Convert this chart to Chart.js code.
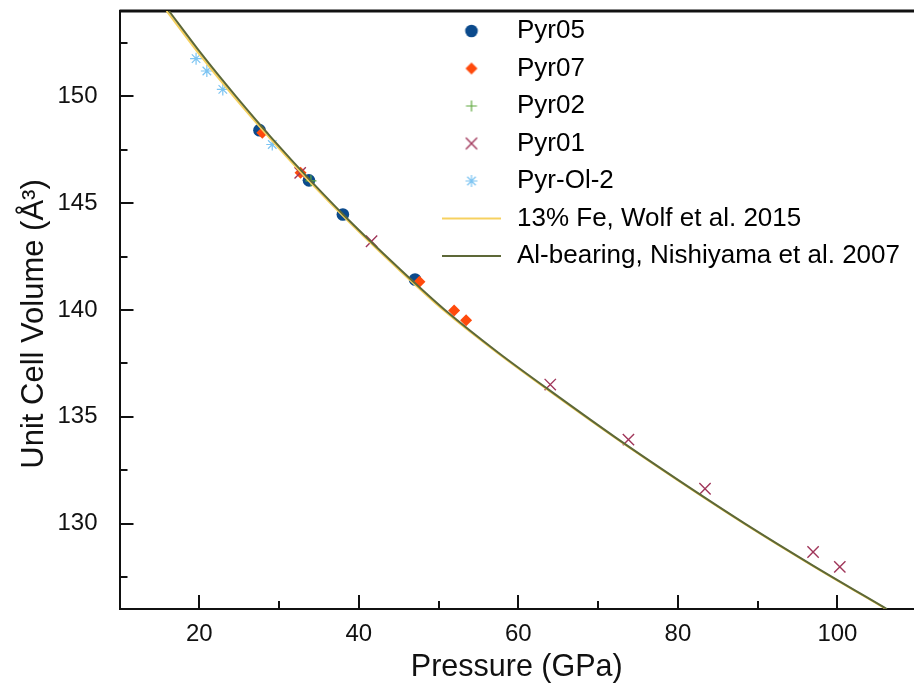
<!DOCTYPE html>
<html>
<head>
<meta charset="utf-8">
<script src="https://cdn.jsdelivr.net/npm/chart.js@4.4.1/dist/chart.umd.min.js"></script>
<style>
  html, body { margin: 0; padding: 0; background: #fff; }
  #wrap { width: 914px; height: 688px; }
</style>
</head>
<body>
<div id="wrap"><canvas id="eosChart" width="914" height="688"></canvas></div>
<script>
// measured points (pressure GPa, volume A^3)
const pyr05P = [27.55, 33.75, 38.0, 47.05]
const pyr05V = [148.42, 146.07, 144.47, 141.43]

const pyr07P = [27.9, 32.7, 47.6, 51.95, 53.45]
const pyr07V = [148.3, 146.43, 141.32, 139.98, 139.52]

const pyr02P = [34.0]
const pyr02V = [146.05]

const pyr01P = [32.65, 41.6, 64.0, 73.8, 83.4, 96.95, 100.3]
const pyr01V = [146.42, 143.22, 136.51, 133.93, 131.63, 128.67, 127.97]

const pyrOlP = [19.6, 20.95, 22.95, 29.15]
const pyrOlV = [151.77, 151.19, 150.33, 147.75]

// equation of state curves
const curveV = [154, 152, 150, 148, 146, 144, 142, 140, 138, 136, 134, 132, 130, 128, 126]
const wolfP = [15.9, 19.95, 24.3, 28.95, 33.85, 39.1, 44.7, 50.6, 57.35, 64.65, 72.2, 80.1, 88.3, 97.0, 106.1]
const nishiP = [16.2, 20.25, 24.6, 29.2, 34.1, 39.3, 44.9, 50.8, 57.5, 64.8, 72.3, 80.2, 88.4, 97.1, 106.2]

// axis ticks
const xMajorTicks = [20, 40, 60, 80, 100]
const xMinorTicks = [30, 50, 70, 90]
const yMajorTicks = [130, 135, 140, 145, 150]
const yMinorTicks = [127.5, 132.5, 137.5, 142.5, 147.5, 152.5]

const xTitleText = "Pressure (GPa)"
const yTitleText = "Unit Cell Volume (Å³)"

const FONT = "'Liberation Sans', Arial, Helvetica, sans-serif"

const toPoints = (xs, ys) => xs.map((x, i) => ({ x, y: ys[i] }))

function markerCanvas(style, radius, color, lineWidth) {
  const c = document.createElement("canvas")
  c.width = 22
  c.height = 22
  const ctx = c.getContext("2d")
  ctx.fillStyle = color
  ctx.strokeStyle = color
  ctx.lineWidth = lineWidth
  Chart.helpers.drawPoint(ctx, { pointStyle: style, radius, borderWidth: lineWidth, rotation: 0 }, 11, 11)
  return c
}

function lineCanvas(color, width) {
  const c = document.createElement("canvas")
  c.width = 59
  c.height = 4
  const ctx = c.getContext("2d")
  ctx.fillStyle = color
  ctx.fillRect(0, 2 - width / 2, 59, width)
  return c
}

const scatterSet = (label, xs, ys, style, radius, color, bw, order) => ({
  label,
  data: toPoints(xs, ys),
  pointStyle: style,
  pointRadius: radius,
  backgroundColor: color,
  borderColor: color,
  borderWidth: bw,
  showLine: false,
  order,
  legendMarker: markerCanvas(style, radius, color, bw),
})

const curveSet = (label, xs, color, order) => ({
  label,
  data: toPoints(xs, curveV),
  showLine: true,
  pointRadius: 0,
  borderColor: color,
  backgroundColor: color,
  borderWidth: 2,
  tension: 0.3,
  order,
  legendMarker: lineCanvas(color, 2),
})

const datasets = [
  scatterSet("Pyr05", pyr05P, pyr05V, "circle", 6.3, "#0b4a8c", 0, 5),
  scatterSet("Pyr07", pyr07P, pyr07V, "rectRot", 6, "#ff4a0c", 0, 4),
  scatterSet("Pyr02", pyr02P, pyr02V, "cross", 5.5, "#5fa83e", 1.2, 3),
  scatterSet("Pyr01", pyr01P, pyr01V, "crossRot", 8, "#a0365a", 1.4, 2),
  scatterSet("Pyr-Ol-2", pyrOlP, pyrOlV, "star", 6, "#7cc4f2", 1.2, 6),
  curveSet("13% Fe, Wolf et al. 2015", wolfP, "#f6d160", 1),
  curveSet("Al-bearing, Nishiyama et al. 2007", nishiP, "#5d6838", 0),
]

// inward ticks and top frame line
const frameTicks = {
  id: "frameTicks",
  beforeDatasetsDraw(chart) {
    const { ctx, chartArea, scales } = chart
    const x = scales.x
    const y = scales.y
    ctx.save()
    ctx.strokeStyle = "#111"
    ctx.lineWidth = 2
    ctx.beginPath()
    const tick = (px, py, dx, dy) => {
      ctx.moveTo(px, py)
      ctx.lineTo(px + dx, py + dy)
    }
    xMajorTicks.forEach((v) => tick(Math.round(x.getPixelForValue(v)), chartArea.bottom, 0, -14))
    xMinorTicks.forEach((v) => tick(Math.round(x.getPixelForValue(v)), chartArea.bottom, 0, -8))
    yMajorTicks.forEach((v) => tick(chartArea.left, Math.round(y.getPixelForValue(v)), 14, 0))
    yMinorTicks.forEach((v) => tick(chartArea.left, Math.round(y.getPixelForValue(v)), 8, 0))
    ctx.stroke()
    ctx.lineWidth = 3
    ctx.beginPath()
    ctx.moveTo(chartArea.left, chartArea.top)
    ctx.lineTo(chartArea.right, chartArea.top)
    ctx.stroke()
    ctx.restore()
  },
}

// y title sits a bit below the plot centre in the original
const yTitle = {
  id: "yTitle",
  afterDraw(chart) {
    const ctx = chart.ctx
    ctx.save()
    ctx.translate(34, 324)
    ctx.rotate(-Math.PI / 2)
    ctx.font = `31px ${FONT}`
    ctx.fillStyle = "#111"
    ctx.textAlign = "center"
    ctx.textBaseline = "middle"
    ctx.fillText(yTitleText, 0, 0)
    ctx.restore()
  },
}

// place the legend inside the plot, upper right
const legendPlacer = {
  id: "legendPlacer",
  afterLayout(chart) {
    chart.legend.left = 427.5
    chart.legend.top = 6.5
  },
}

const noPadding = (scale) => {
  scale.paddingTop = 0
  scale.paddingBottom = 0
  scale.paddingLeft = 0
  scale.paddingRight = 0
}

new Chart(document.getElementById("eosChart"), {
  type: "scatter",
  data: { datasets },
  options: {
    responsive: false,
    animation: false,
    events: [],
    layout: { autoPadding: false, padding: { top: 11, right: 0, bottom: 0, left: 0 } },
    plugins: {
      tooltip: { enabled: false },
      legend: {
        position: "chartArea",
        align: "start",
        labels: {
          usePointStyle: true,
          pointStyleWidth: 65,
          padding: 11.5,
          color: "#111",
          font: { family: FONT, size: 26 },
          generateLabels: (chart) =>
            chart.data.datasets.map((ds, i) => ({
              text: ds.label,
              datasetIndex: i,
              pointStyle: ds.legendMarker,
              fillStyle: ds.borderColor,
              strokeStyle: ds.borderColor,
              lineWidth: 0,
              hidden: false,
            })),
        },
      },
    },
    scales: {
      x: {
        type: "linear",
        min: 10,
        max: 109.6,
        afterBuildTicks: (scale) => {
          scale.ticks = xMajorTicks.map((v) => ({ value: v }))
        },
        afterFit: (scale) => {
          scale.height = 79
          noPadding(scale)
        },
        grid: { display: false, drawTicks: false },
        border: { display: true, color: "#111", width: 2 },
        ticks: { color: "#111", padding: 11, font: { family: FONT, size: 24 } },
        title: {
          display: true,
          text: xTitleText,
          color: "#111",
          font: { family: FONT, size: 30.5 },
          padding: { top: 2, bottom: 2 },
        },
      },
      y: {
        type: "linear",
        min: 126,
        max: 154,
        afterBuildTicks: (scale) => {
          scale.ticks = yMajorTicks.map((v) => ({ value: v }))
        },
        afterFit: (scale) => {
          scale.width = 119.5
          noPadding(scale)
        },
        grid: { display: false, drawTicks: false },
        border: { display: true, color: "#111", width: 2 },
        ticks: { color: "#111", padding: 22, font: { family: FONT, size: 24 } },
        title: { display: false },
      },
    },
  },
  plugins: [frameTicks, yTitle, legendPlacer],
})
</script>
</body>
</html>
